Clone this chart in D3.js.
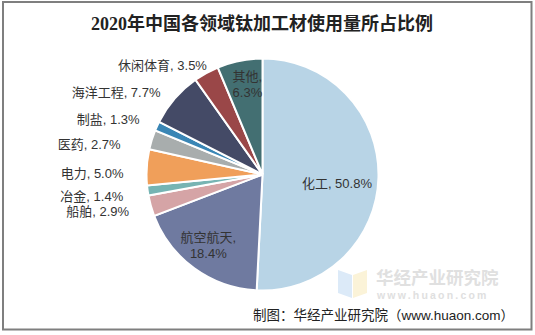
<!DOCTYPE html>
<html><head><meta charset="utf-8">
<script src="https://cdn.jsdelivr.net/npm/d3@7"></script>
<style>
html,body{margin:0;padding:0;background:#fff;}
svg{display:block;}
</style></head>
<body>
<svg id="chart" width="535" height="335"></svg>
<script>
const categories = ["化工","航空航天","船舶","冶金","电力","医药","制盐","海洋工程","休闲体育","其他"];
const values = [50.8,18.4,2.9,1.4,5.0,2.7,1.3,7.7,3.5,6.3];
const colors = ["#B8D4E6","#6F7AA0","#D5A4A6","#76B4B3","#F09F5A","#A8ADAD","#3A86B5","#444A66","#9A4748","#436F72"];
// label layout: [radius, angle shift deg, inside?]
const labelLayout = [[75,5.6,1],[89,1.5,1],[138.5,0,0],[141,-1,0],[139,-3,0],[145,-5.5,0],[134.5,-0.7,0],[131,-2,0],[122.5,2,0],[91,1.8,1]];
const title = "2020年中国各领域钛加工材使用量所占比例";
const source = "制图：华经产业研究院（www.huaon.com）";

const svg = d3.select("#chart");
svg.append("rect").attr("x",3).attr("y",2).attr("width",528.5).attr("height",327.5)
  .attr("fill","#fff").attr("stroke","#7f7f7f").attr("stroke-width",2);

svg.append("text").attr("x",262).attr("y",30).attr("text-anchor","middle")
  .attr("font-family","'Liberation Serif','Noto Sans CJK SC'").attr("font-weight","bold")
  .attr("font-size",18).attr("fill","#222").text(title);

const cx = 262.5, cy = 174.5, R = 116;
const g = svg.append("g").attr("transform",`translate(${cx},${cy})`);
const pie = d3.pie().sort(null).value(d=>d);
const arcs = pie(values);
const arc = d3.arc().innerRadius(0).outerRadius(R);
g.selectAll("path").data(arcs).enter().append("path")
  .attr("d",arc).attr("fill",(d,i)=>colors[i]).attr("stroke","#fff").attr("stroke-width",2);

const font = "'Liberation Sans','Noto Sans CJK SC',sans-serif";
arcs.forEach((d,i)=>{
  const [r, sh, inside] = labelLayout[i];
  const a = (d.startAngle + d.endAngle)/2 + sh*Math.PI/180;
  const x = r*Math.sin(a), y = -r*Math.cos(a);
  const pct = values[i].toFixed(1)+"%";
  if (inside) {
    const t = g.append("text").attr("font-family",font).attr("font-size",13).attr("fill","#333")
      .attr("text-anchor","middle");
    if (categories[i].length > 2 || i === 9) {
      t.append("tspan").attr("x",x).attr("y",y-8).attr("dy","0.35em").text(categories[i]+",");
      t.append("tspan").attr("x",x).attr("y",y+8).attr("dy","0.35em").text(pct);
    } else {
      t.attr("x",x).attr("y",y).attr("dy","0.35em").text(categories[i]+", "+pct);
    }
  } else {
    g.append("text").attr("font-family",font).attr("font-size",13).attr("fill","#333")
      .attr("text-anchor","end").attr("x",x).attr("y",y).attr("dy","0.35em")
      .text(categories[i]+", "+pct);
  }
});

// watermark
const wm = svg.append("g");
wm.append("path").attr("d","M338,270 L352,275 L352,298 L338,293 Z").attr("fill","#DCEAF8");
wm.append("path").attr("d","M353,275 L367,270 L367,293 L353,298 Z").attr("fill","#FBF3D8");
wm.append("text").attr("x",376).attr("y",284).attr("font-family","'Noto Sans CJK SC'").attr("font-weight","bold")
  .attr("font-size",17.5).attr("fill","#E0E0E0").text("华经产业研究院");
wm.append("text").attr("x",377).attr("y",299).attr("font-family","'Liberation Sans'").attr("font-weight","bold")
  .attr("font-size",10.5).attr("letter-spacing",2.2).attr("fill","#E0E0E0").text("www.huaon.com");

svg.append("text").attr("x",514).attr("y",320).attr("text-anchor","end")
  .attr("font-family",font).attr("font-size",13.5).attr("fill","#222").text(source);
</script>
</body></html>
